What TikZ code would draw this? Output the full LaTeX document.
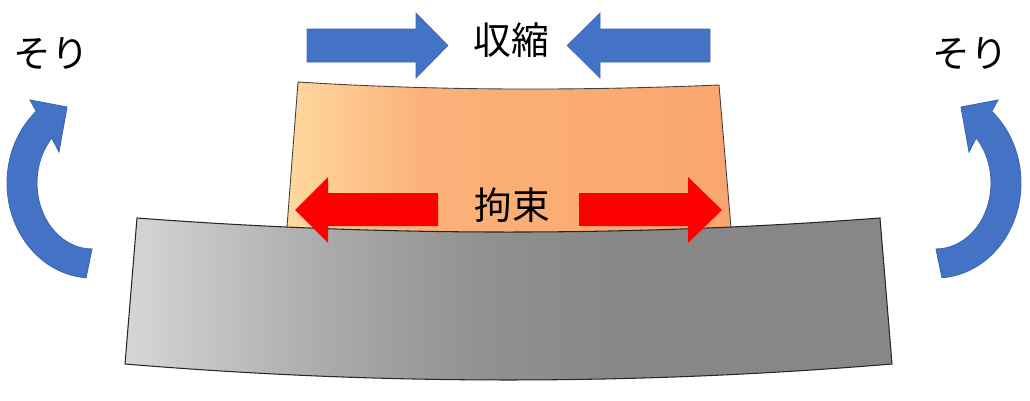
\documentclass[tikz,border=0pt]{standalone}
\usepackage{fontspec}
\newfontfamily\jpfont{Noto Sans CJK JP}
\definecolor{arrowblue}{HTML}{4472C4}
\definecolor{arrowblueline}{HTML}{3C66B4}
\definecolor{filmlight}{RGB}{255,217,160}
\definecolor{filmmid}{RGB}{251,178,122}
\definecolor{filmdark}{RGB}{249,166,110}
\pgfdeclarehorizontalshading{platefade}{100bp}{color(0bp)=(black!16); color(25bp)=(black!16);
  color(38bp)=(black!33); color(48bp)=(black!43); color(57bp)=(black!47);
  color(75bp)=(black!47); color(100bp)=(black!47)}
\pgfdeclarehorizontalshading{filmfade}{100bp}{color(0bp)=(filmlight); color(25bp)=(filmlight);
  color(40bp)=(filmmid); color(75bp)=(filmdark); color(100bp)=(filmdark)}

\begin{document}
\begin{tikzpicture}[x=0.02cm, y=0.02cm]
\tikzset{jp/.style = {font=\jpfont\fontsize{21.5}{26}\selectfont, inner sep=0pt}}
\tikzset{bluearrow/.style = {fill=arrowblue, draw=arrowblueline, line width=0.3pt}}
\tikzset{redarrow/.style = {fill=red, draw=none}}
\tikzset{sori/.style = {fill=arrowblue, draw=arrowblueline, line width=0.5pt}}
\useasboundingbox (0,0) rectangle (1030,400);
% film on top
\draw[draw=black!75, line width=0.5pt, shading=filmfade, shading angle=0]
  (298,318) .. controls (438,309.2) and (579,309.2) .. (719,315)
  -- (732,160) -- (286,160) -- cycle;
% base plate
\draw[draw=black!85, line width=0.6pt, shading=platefade, shading angle=0]
  (137,182) .. controls (385,163.3) and (632,163.3) .. (880,182)
  -- (892,36) .. controls (636,14.7) and (381,14.7) .. (125,36) -- cycle;
% constraint arrows
\foreach \a/\b/\c in {438/328/295, 579/688/722}
  \draw[redarrow] (\a,207) -- (\b,207) -- (\b,223) -- (\c,190)
    -- (\b,157) -- (\b,174) -- (\a,174) -- cycle;
\node[jp] (kosoku) at (512,195) {拘束};
% shrink arrows
\foreach \a/\b/\c in {307/416/448, 710/600/567}
  \draw[bluearrow] (\a,371) -- (\b,371) -- (\b,387) -- (\c,354.5)
    -- (\b,322) -- (\b,338) -- (\a,338) -- cycle;
\node[jp] (shuku) at (511,359.5) {収縮};
% warp arrows
\foreach \cx/\s in {92/1, 936/-1}
{
  \begin{scope}[shift={(\cx,217)}, xscale=\s]
    \draw[sori] (266:1.7cm and 1.9cm)
      arc[start angle=266, end angle=131, x radius=1.7cm, y radius=1.9cm]
      -- (-62,83) -- (-25,76) -- (-33,31) -- (137:1.1cm and 1.32cm)
      arc[start angle=137, end angle=270, x radius=1.1cm, y radius=1.32cm]
      -- cycle;
  \end{scope}
}
\node[jp] (sorileft) at (51,346) {そり};
\node[jp] (soriright) at (970,346) {そり};
\end{tikzpicture}
\end{document}
